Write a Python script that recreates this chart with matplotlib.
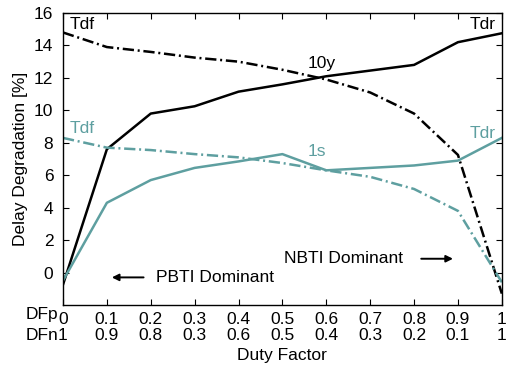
import matplotlib
matplotlib.use("Agg")
import matplotlib.pyplot as plt

plt.rcParams['font.family'] = ['Liberation Sans', 'DejaVu Sans']

duty = [0, 0.1, 0.2, 0.3, 0.4, 0.5, 0.6, 0.7, 0.8, 0.9, 1.0]
tdr_10y = [-0.75, 7.6, 9.8, 10.25, 11.15, 11.6, 12.1, 12.45, 12.8, 14.2, 14.75]
tdf_10y = [14.8, 13.9, 13.6, 13.25, 13.0, 12.5, 11.9, 11.1, 9.8, 7.25, -1.3]
tdr_1s = [-0.5, 4.3, 5.7, 6.45, 6.85, 7.3, 6.3, 6.45, 6.6, 6.9, 8.3]
tdf_1s = [8.3, 7.7, 7.55, 7.3, 7.1, 6.75, 6.3, 5.9, 5.15, 3.8, -0.6]
dfp_labels = ['0', '0.1', '0.2', '0.3', '0.4', '0.5', '0.6', '0.7', '0.8', '0.9', '1']
dfn_labels = ['1', '0.9', '0.8', '0.3', '0.6', '0.5', '0.4', '0.3', '0.2', '0.1', '1']
yticks = [0, 2, 4, 6, 8, 10, 12, 14, 16]

teal = '#5e9fa0'
fs = 12.5

fig = plt.figure(figsize=(5.1, 3.67), dpi=100)
ax = fig.add_axes([0.1235, 0.169, 0.8605, 0.7956])

dd = (4.5, 1.5, 0.8, 1.5)
lw = 1.8
ax.plot(duty, tdr_10y, color='black', lw=lw)
ax.plot(duty, tdf_10y, color='black', lw=lw, dashes=dd)
ax.plot(duty, tdr_1s, color=teal, lw=lw)
ax.plot(duty, tdf_1s, color=teal, lw=lw, dashes=dd)

ax.set_xlim(0, 1)
ax.set_ylim(-2, 16)
ax.set_yticks(yticks)
ax.set_yticklabels([str(v) for v in yticks], fontsize=fs)
ax.set_xticks(duty)
ax.set_xticklabels([p + '\n' + n for p, n in zip(dfp_labels, dfn_labels)],
                   fontsize=fs, linespacing=1.12)
ax.tick_params(direction='in', top=True, right=True, length=4, width=0.8)
ax.tick_params(axis='y', pad=7)
ax.tick_params(axis='x', pad=5)
for s in ax.spines.values():
    s.set_linewidth(1.0)

ax.set_ylabel('Delay Degradation [%]', fontsize=fs, labelpad=4)
ax.set_xlabel('Duty Factor', fontsize=fs, labelpad=3)

fig.text(58 / 510, 1 - 315 / 367, 'DFp', fontsize=fs, ha='right', va='center')
fig.text(58 / 510, 1 - 335 / 367, 'DFn', fontsize=fs, ha='right', va='center')

ax.text(0.015, 15.3, 'Tdf', fontsize=fs, color='black', va='center')
ax.text(0.985, 15.3, 'Tdr', fontsize=fs, color='black', va='center', ha='right')
ax.text(0.59, 12.9, '10y', fontsize=fs, color='black', va='center', ha='center')
ax.text(0.015, 8.9, 'Tdf', fontsize=fs, color=teal, va='center')
ax.text(0.985, 8.6, 'Tdr', fontsize=fs, color=teal, va='center', ha='right')
ax.text(0.578, 7.45, '1s', fontsize=fs, color=teal, va='center', ha='center')

ax.text(0.212, -0.3, 'PBTI Dominant', fontsize=fs, va='center', ha='left')
ax.annotate('', xy=(0.105, -0.3), xytext=(0.19, -0.3),
            arrowprops=dict(arrowstyle='-|>', color='black', lw=1.4,
                            mutation_scale=10))
ax.text(0.503, 0.85, 'NBTI Dominant', fontsize=fs, va='center', ha='left')
ax.annotate('', xy=(0.895, 0.85), xytext=(0.81, 0.85),
            arrowprops=dict(arrowstyle='-|>', color='black', lw=1.4,
                            mutation_scale=10))

fig.savefig('out.png', dpi=100)
